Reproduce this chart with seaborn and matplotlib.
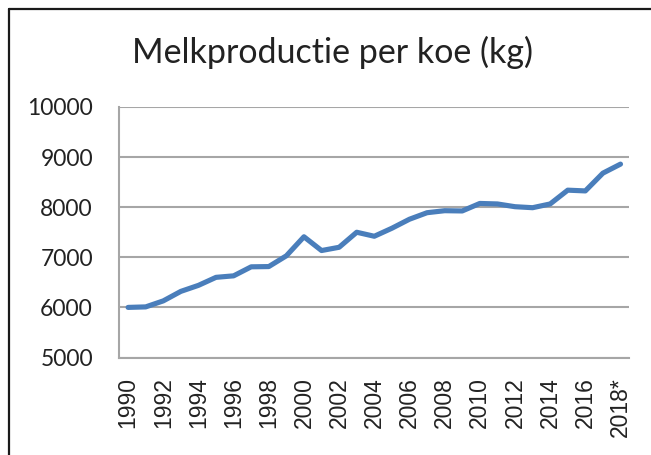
import matplotlib
matplotlib.use("Agg")
import matplotlib.pyplot as plt
from matplotlib.lines import Line2D
import seaborn as sns
import numpy as np

# Data (kg melk per koe per jaar)
years = ["1990", "1991", "1992", "1993", "1994", "1995", "1996", "1997", "1998", "1999",
         "2000", "2001", "2002", "2003", "2004", "2005", "2006", "2007", "2008", "2009",
         "2010", "2011", "2012", "2013", "2014", "2015", "2016", "2017", "2018*"]
milk_kg = [6000, 6010, 6130, 6320, 6440, 6600, 6630, 6810, 6815, 7030,
           7410, 7135, 7200, 7500, 7420, 7580, 7760, 7890, 7930, 7925,
           8075, 8065, 8010, 7990, 8065, 8340, 8325, 8680, 8860]
y_ticks = [5000, 6000, 7000, 8000, 9000, 10000]

sns.set_style("white")
plt.rcParams["font.family"] = ["Lato", "DejaVu Sans"]

W, H = 651, 455
fig = plt.figure(figsize=(W / 100, H / 100), dpi=100)
ax = fig.add_axes([119.3 / W, 1 - 357.5 / H, (629.3 - 119.3) / W, (357.5 - 107) / H])

pos = np.arange(len(years))
sns.lineplot(x=pos, y=milk_kg, ax=ax, color="#4a7ebb", linewidth=3.7,
             solid_capstyle="round", solid_joinstyle="round", zorder=3)

grid_col = "#a6a6a6"
ax.set_ylim(y_ticks[0], y_ticks[-1])
ax.set_yticks(y_ticks)
ax.set_yticklabels([str(v) for v in y_ticks], fontsize=16.5, color="#222222")
ax.yaxis.grid(True, color=grid_col, linewidth=1.5)
ax.set_axisbelow(True)

ax.set_xlim(-0.5, len(years) - 0.5)
ax.set_xticks(pos[::2])
ax.set_xticklabels(years[::2], rotation=90, fontsize=16.5, color="#222222",
                   family=["Liberation Sans", "DejaVu Sans"], va="top")
ax.set_xticks(np.arange(-0.5, len(years)), minor=True)
ax.tick_params(axis="x", which="major", length=0, pad=14)
ax.tick_params(axis="x", which="minor", length=6, width=1.2, color=grid_col)
ax.tick_params(axis="y", length=6, width=1.2, color=grid_col, pad=13)

for s in ["top", "right"]:
    ax.spines[s].set_visible(False)
for s in ["left", "bottom"]:
    ax.spines[s].set_color(grid_col)
    ax.spines[s].set_linewidth(1.5)

ax.set_xlabel("")
ax.set_ylabel("")

fig.text(332 / W, 1 - 63.3 / H, "Melkproductie per koe (kg)", ha="center",
         va="baseline", fontsize=24.5, color="#222222")

# frame of the chart object
fig.add_artist(Line2D([8.5 / W, 8.5 / W], [0, 1 - 8.5 / H], transform=fig.transFigure,
                      color="#1a1a1a", linewidth=1.6))
fig.add_artist(Line2D([8.5 / W, 1], [1 - 8.5 / H, 1 - 8.5 / H], transform=fig.transFigure,
                      color="#1a1a1a", linewidth=1.6))

fig.savefig("out.png", dpi=100)
